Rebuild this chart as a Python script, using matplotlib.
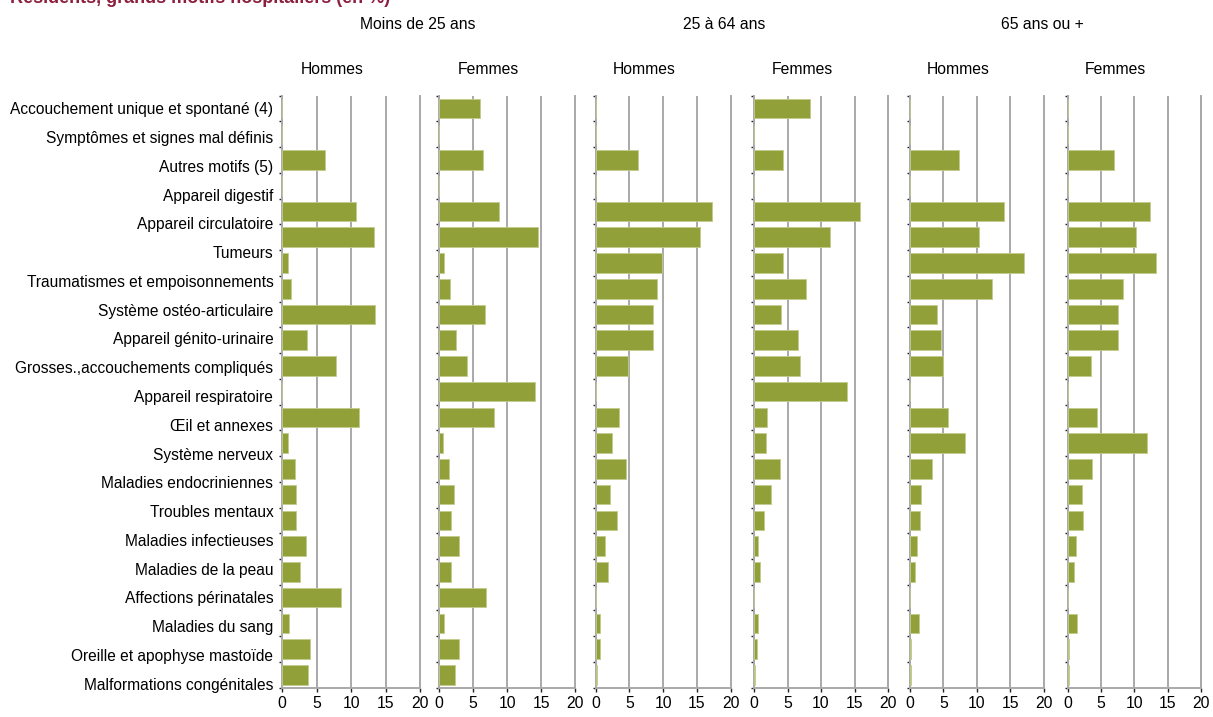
import numpy as np
import matplotlib.pyplot as plt

plt.rcParams['font.family'] = ['Liberation Sans Narrow', 'Liberation Sans', 'DejaVu Sans']

# row labels as printed on the left (21 of them)
labels = ["Accouchement unique et spontané (4)", "Symptômes et signes mal définis",
          "Autres motifs (5)", "Appareil digestif", "Appareil circulatoire", "Tumeurs",
          "Traumatismes et empoisonnements", "Système ostéo-articulaire",
          "Appareil génito-urinaire", "Grosses.,accouchements compliqués",
          "Appareil respiratoire", "Œil et annexes", "Système nerveux",
          "Maladies endocriniennes", "Troubles mentaux", "Maladies infectieuses",
          "Maladies de la peau", "Affections périnatales", "Maladies du sang",
          "Oreille et apophyse mastoïde", "Malformations congénitales"]

groupes = ["Moins de 25 ans", "25 à 64 ans", "65 ans ou +"]
sexes = ["Hommes", "Femmes"]
ticks = [0, 5, 10, 15, 20]

# bar values (%), 23 rows top to bottom in each panel
h_moins25 = [0, 0, 6.2, 0, 10.7, 13.3, 0.9, 1.25, 13.4, 3.6, 7.8, 0, 11.1, 0.8,
             1.8, 2.0, 2.0, 3.5, 2.5, 8.5, 0.95, 4.05, 3.8]
f_moins25 = [6.0, 0, 6.4, 0, 8.8, 14.5, 0.75, 1.6, 6.7, 2.5, 4.1, 14.1, 8.1, 0.6,
             1.4, 2.2, 1.7, 2.85, 1.7, 6.95, 0.75, 2.9, 2.3]
h_25_64 = [0, 0, 6.2, 0, 17.2, 15.45, 9.85, 9.1, 8.55, 8.55, 4.85, 0, 3.5, 2.35,
           4.5, 2.15, 3.15, 1.35, 1.8, 0, 0.6, 0.6, 0.2]
f_25_64 = [8.3, 0, 4.4, 0, 15.8, 11.35, 4.4, 7.7, 4.0, 6.55, 6.9, 13.9, 1.9, 1.75,
           3.85, 2.5, 1.55, 0.55, 0.95, 0, 0.55, 0.4, 0.2]
h_65 = [0, 0, 7.3, 0, 14.05, 10.35, 16.95, 12.3, 4.05, 4.65, 5.0, 0, 5.75, 8.3,
        3.3, 1.75, 1.55, 1.15, 0.8, 0, 1.4, 0.15, 0.15]
f_65 = [0, 0, 6.95, 0, 12.35, 10.25, 13.3, 8.3, 7.55, 7.55, 3.5, 0, 4.4, 11.95,
        3.65, 2.15, 2.3, 1.2, 0.95, 0, 1.35, 0.15, 0.15]

series = [h_moins25, f_moins25, h_25_64, f_25_64, h_65, f_65]

W, H = 1213, 717
fig = plt.figure(figsize=(W / 100, H / 100), dpi=100)

# panel placement in pixels (left, width)
lefts = [282.3, 439.3, 595.7, 754.0, 909.7, 1067.7]
widths = [137.7, 135.7, 135.0, 134.0, 134.3, 133.3]
top_px, bot_px = 95.7, 687.7
green = '#91a038'
grey = '#a9a9a9'
fs = 11.3

axes = []
for i, vals in enumerate(series):
    ax = fig.add_axes([lefts[i] / W, 1 - bot_px / H, widths[i] / W, (bot_px - top_px) / H])
    y = np.arange(len(vals))
    ax.barh(y, vals, height=0.76, color=green, edgecolor='#c3cc8c', linewidth=0.6, zorder=3)
    ax.set_xlim(0, 20)
    ax.set_ylim(len(vals) - 0.5, -0.5)
    ax.set_xticks(ticks)
    ax.set_xticklabels([str(t) for t in ticks], fontsize=fs)
    ax.set_yticks(np.arange(len(vals) + 1) - 0.5)
    ax.set_yticklabels([])
    ax.tick_params(axis='y', length=2, width=1, color='#222222', direction='out')
    ax.tick_params(axis='x', length=3, width=1, color='#222222', pad=3)
    ax.grid(axis='x', color=grey, linewidth=1.4, zorder=0)
    for s in ['left', 'bottom', 'right']:
        ax.spines[s].set_color(grey)
        ax.spines[s].set_linewidth(1.4)
    ax.spines['top'].set_visible(False)
    ax.text(0.36, (top_px - 69) / (bot_px - top_px) + 1, sexes[i % 2],
            transform=ax.transAxes, ha='center', va='center', fontsize=fs)
    axes.append(ax)

for g, off in zip(range(3), [0.985, 0.955, 0.985]):
    ax = axes[2 * g]
    ax.text(off, (top_px - 24) / (bot_px - top_px) + 1, groupes[g],
            transform=ax.transAxes, ha='center', va='center', fontsize=fs)

# separate axis carrying the row labels
lab_top, lab_bot = 94.0, 698.0
axl = fig.add_axes([lefts[0] / W, 1 - lab_bot / H, 0.001, (lab_bot - lab_top) / H])
axl.set_ylim(len(labels) - 0.5, -0.5)
axl.set_yticks(np.arange(len(labels)))
axl.set_yticklabels(labels, fontsize=11.2)
axl.tick_params(axis='y', length=0, pad=6.5)
axl.set_xticks([])
axl.patch.set_visible(False)
for s in axl.spines.values():
    s.set_visible(False)

# title, cut off at the top edge as in the source image
fig.text(0.008, 1 - 3 / H, "Résidents, grands motifs hospitaliers (en %)",
         color='#8c1f3f', fontsize=13, fontweight='bold', ha='left', va='baseline')

fig.savefig('out.png', dpi=100)
